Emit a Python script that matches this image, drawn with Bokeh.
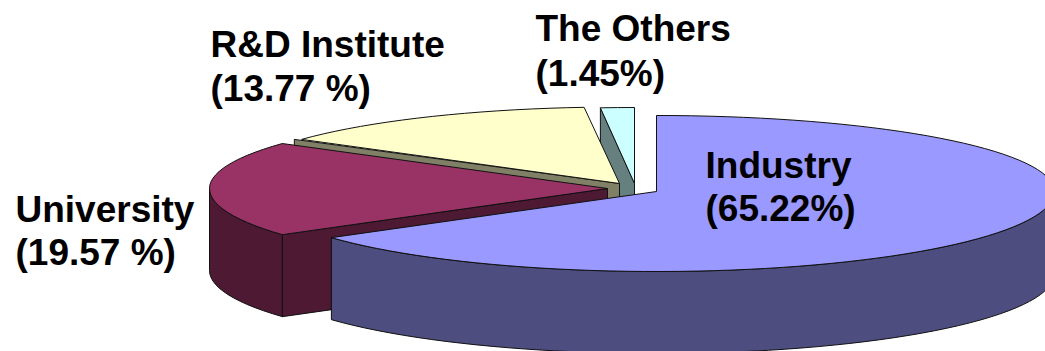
import numpy as np
from bokeh.core.properties import value
from bokeh.embed import file_html
from bokeh.models import Range1d
from bokeh.plotting import figure
from bokeh.resources import INLINE

# Shares of each sector, clockwise from twelve o'clock
sectors = ["Industry", "University", "R&D Institute", "The Others"]
shares = [65.22, 19.57, 13.77, 1.45]
share_labels = ["(65.22%)", "(19.57 %)", "(13.77 %)", "(1.45%)"]

top_colors = ["#9999FF", "#993366", "#FFFFCC", "#CCFFFF"]
side_colors = ["#4D4D80", "#4D1933", "#808066", "#668080"]

# Exploded apex of every wedge and its top-face radii, in page pixels
apexes = [(656, 191), (607, 188), (619, 183), (634, 183)]
radii_x = [398.0, 398.0, 389.0, 375.0]
radii_back = [76.0, 78.0, 76.5, 76.0]
RY_FRONT = 80.0
DEPTH = 82.0

label_x = [705, 15, 210, 535]
name_y = [165, 209, 44, 28]
pct_y = [208, 252, 88, 73]

total = sum(shares)
edges = np.concatenate([[0.0], np.cumsum(shares)]) / total * 2 * np.pi


def rim(i, a, rx=None):
    """Top-face point of wedge i at clockwise angle a (radians)."""
    cx, cy = apexes[i]
    rx = radii_x[i] if rx is None else rx
    c = np.cos(a)
    ry = np.where(c > 0, radii_back[i], RY_FRONT)
    return cx + rx * np.sin(a), cy - ry * c


def arc(i, a0, a1, step=np.radians(2.5)):
    n = max(2, int(abs(a1 - a0) / step) + 1)
    return rim(i, np.linspace(a0, a1, n))


p = figure(
    width=1045,
    height=351,
    x_range=Range1d(0, 1045),
    y_range=Range1d(351, 0),
    toolbar_location=None,
    output_backend="svg",
    min_border=0,
    outline_line_color=None,
    background_fill_color="white",
    border_fill_color="white",
)
p.xaxis.visible = False
p.yaxis.visible = False
p.grid.visible = False


def poly(xs, ys, color):
    p.patch(list(xs), list(ys), fill_color=color, line_color="#111111", line_width=1)


def cut_face(i, a, rx=None):
    cx, cy = apexes[i]
    ox, oy = rim(i, a, rx)
    poly([cx, ox, ox, cx], [cy, oy, oy + DEPTH, cy + DEPTH], side_colors[i])


def top_face(i):
    x, y = arc(i, edges[i], edges[i + 1])
    cx, cy = apexes[i]
    poly(np.r_[cx, x], np.r_[cy, y], top_colors[i])


def outer_wall(i, a0, a1):
    x, y = arc(i, a0, a1)
    poly(np.r_[x, x[::-1]], np.r_[y, y[::-1] + DEPTH], side_colors[i])


# Back wedges first, so the nearer ones overlap them
cut_face(3, edges[3])
top_face(3)

cut_face(2, edges[2], rx=398.0)
top_face(2)

outer_wall(1, edges[1], 1.5 * np.pi)
cut_face(1, edges[1])
top_face(1)

outer_wall(0, 0.5 * np.pi, edges[1])
top_face(0)

p.text(
    x=label_x + label_x,
    y=name_y + pct_y,
    text=sectors + share_labels,
    text_font=value("Liberation Sans"),
    text_font_style="bold",
    text_font_size="37px",
    text_color="black",
    text_align="left",
    text_baseline="middle",
)

open("out.html", "w").write(file_html(p, INLINE))
